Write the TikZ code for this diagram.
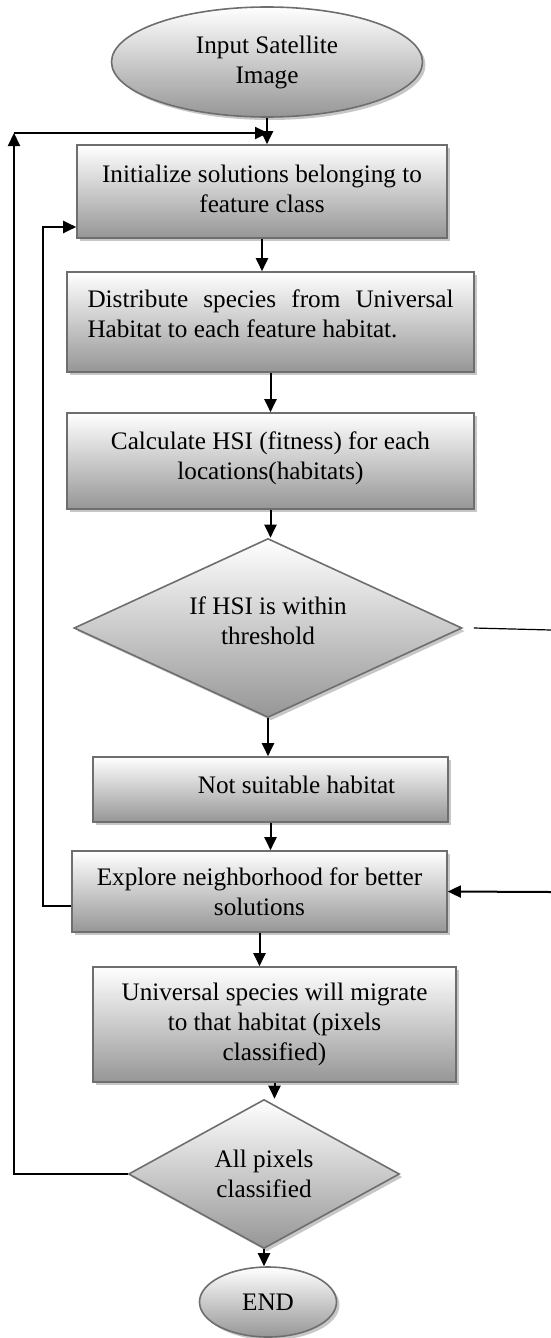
\documentclass[tikz,border=0pt]{standalone}
\usepackage{fontspec}
\setmainfont{Liberation Serif}
\usetikzlibrary{shapes.geometric,shadows,arrows.meta}
\definecolor{edgegray}{RGB}{110,110,110}
\definecolor{shadegray}{RGB}{150,150,150}
\begin{document}
\begin{tikzpicture}[x=1pt,y=-1pt,
  txt/.style={inner sep=0pt,align=center,font=\fontsize{25.2}{30}\selectfont},
  shapebase/.style={draw=edgegray,line width=1.6pt,top color=white,bottom color=shadegray,
    txt,drop shadow={shadow xshift=3pt,shadow yshift=-3pt,fill=black!22,opacity=1}},
  boxs/.style={shapebase,rectangle},
  ovals/.style={shapebase,ellipse},
  decis/.style={shapebase,diamond},
  conn/.style={line width=2pt,black},
  arr/.style={conn,-{Triangle[length=13pt,width=12pt]}}]
\useasboundingbox (0,0) rectangle (551,1338);

\node[ovals,minimum width=311pt,minimum height=110pt] (in1) at (267,62) {Input Satellite\\Image};
\node[boxs,minimum width=370pt,minimum height=93pt,
  label={[txt,yshift=3pt]center:{Initialize solutions belonging to\\feature class}}] (b1) at (262,191.5) {};
\node[boxs,minimum width=407pt,minimum height=100pt,
  label={[txt,text width=366pt,align=justify,yshift=8pt]center:{Distribute species from Universal\linebreak Habitat to each feature habitat.}}] (b2) at (270.5,322) {};
\node[boxs,minimum width=407pt,minimum height=96pt,
  label={[txt,yshift=3pt]center:{Calculate HSI (fitness) for each\\locations(habitats)}}] (b3) at (270.5,461) {};
\node[decis,minimum width=388pt,minimum height=179pt,aspect=2.17,
  label={[txt,yshift=7pt]center:{If HSI is within\\threshold}}] (d1) at (268,628) {};
\node[boxs,minimum width=355pt,minimum height=65pt,
  label={[txt,xshift=26pt,yshift=5pt]center:{Not suitable habitat}}] (b4) at (270.5,789.5) {};
\node[boxs,minimum width=375pt,minimum height=81pt] (b5) at (259.5,891.5) {Explore neighborhood for better\\solutions};
\node[boxs,minimum width=363pt,minimum height=115pt] (b6) at (274.5,1024.5) {Universal species will migrate\\to that habitat (pixels\\classified)};
\node[decis,minimum width=271pt,minimum height=149pt,aspect=1.82] (d2) at (264,1174) {All pixels\\classified};
\node[ovals,minimum width=137pt,minimum height=70pt] (end) at (268,1302) {END};

\coordinate (cL) at (14,133);
\coordinate (cJ) at (268,133);
\coordinate (i1) at (43,906);
\coordinate (i2) at (43,227);
\coordinate (r1) at (551,630);
\coordinate (r2) at (551,892);

% main flow
\draw[arr] (in1.south) -- (in1.south |- b1.north);
\draw[arr] (b1.south) -- (b1.south |- b2.north);
\draw[arr] (b2.south) -- (b2.south |- b3.north);
\draw[arr] (b3.south) -- (b3.south |- d1.north);
\draw[arr] (d1.south) -- (d1.south |- b4.north);
\draw[arr] (b4.south) -- (b4.south |- b5.north);
\draw[arr] (b5.south) -- (b5.south |- b6.north);
\draw[arr] (b6.south) -- (b6.south |- d2.north);
\draw[arr] (d2.south) -- (d2.south |- end.north);

% outer loop
\draw[arr] (d2.west) -| (cL);
\draw[arr] (cL) -- (cJ);

% inner loop
\draw[arr] (b5.west |- i1) -- (i1) -- (i2) -- (b1.west |- i2);

% right branch
\draw[line width=1.2pt] ([xshift=11pt]d1.east) -- (r1);
\draw[arr] (r2) -- (b5.east);
\end{tikzpicture}
\end{document}
